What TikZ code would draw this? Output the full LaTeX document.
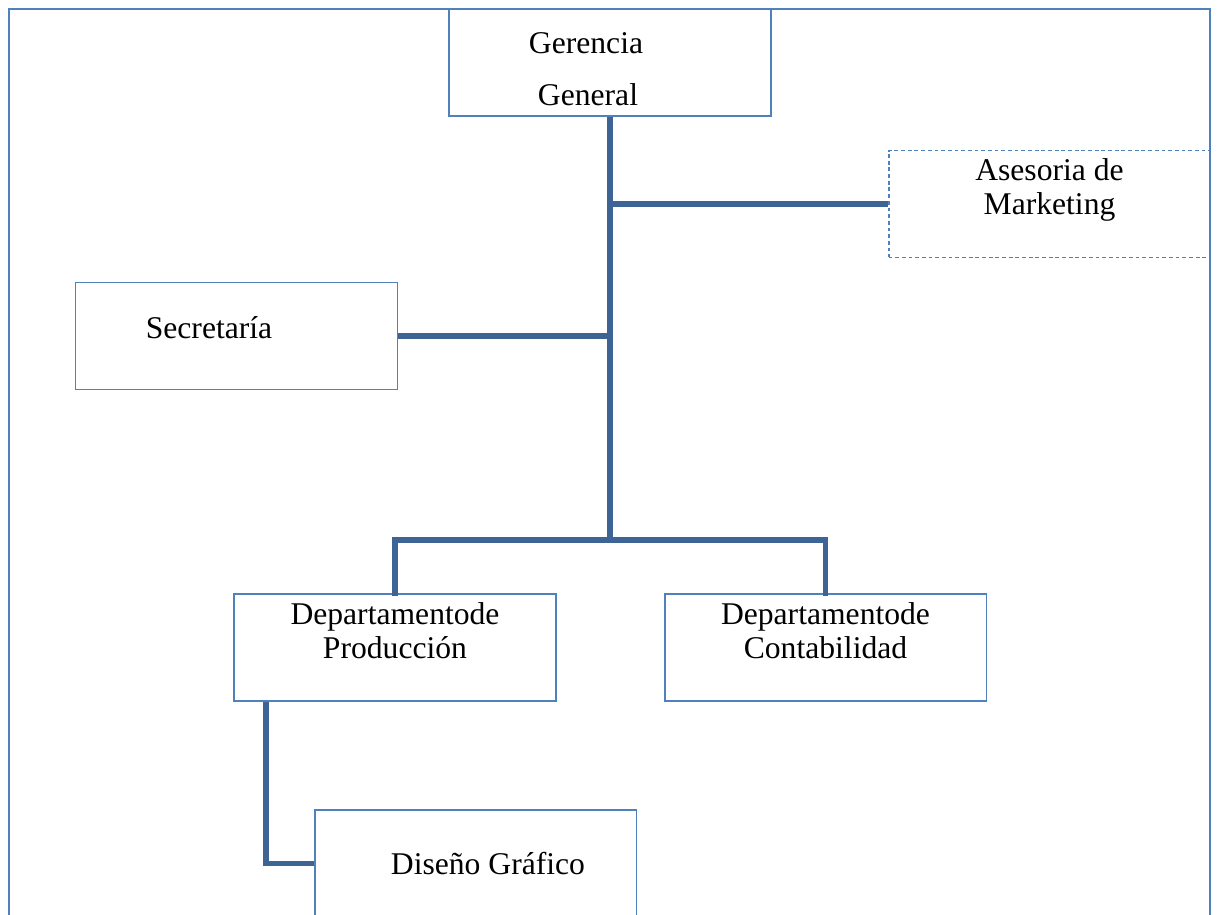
\documentclass[tikz,border=0pt]{standalone}
\usepackage{fontspec}
\setmainfont{Liberation Serif}
\usepackage{xcolor}
\usepackage{tikz}
\usetikzlibrary{positioning}
\definecolor{boxblue}{RGB}{79,129,189}
\definecolor{linkblue}{RGB}{62,100,150}
\tikzset{
  unit/.style={draw=boxblue, line width=1.1pt, rectangle, align=center, font=\fontsize{18}{19.5}\selectfont, minimum width=6.44cm, minimum height=2.14cm, inner sep=0pt},
  advisor/.style={unit, dash pattern=on 2.2pt off 1.6pt},
  link/.style={draw=linkblue, line width=3pt},
  frame/.style={draw=boxblue, line width=1.1pt}
}
\begin{document}
\begin{tikzpicture}[x=0.02cm, y=-0.02cm]
  \clip (0,0) rectangle (1218,914);

  \node [unit] (gg) at (610,62.5) {\mbox{}\\[0pt]\hspace*{-0.96cm}Gerencia\\[10pt]\hspace*{-0.88cm}General};
  \node [advisor] (asm) at (1049.5,204) {Asesoria de\\Marketing\\};
  \node [unit] (sec) at (236.5,336) {\hspace*{-1.1cm}Secretaría\\[-0.33cm]};
  \node [unit] (prod) at (395,647.5) {Departamentode\\Producción\\};
  \node [unit] (cont) at (825.5,647.5) {Departamentode\\Contabilidad\\};
  \node [unit] (dis) at (475.5,863.5) {\hspace*{0.5cm}Diseño Gráfico};

  \coordinate (hub) at (610,540);
  \draw [link] (gg.south) -- (hub);
  \draw [link] (asm.west) -- (asm.west -| gg.south);
  \draw [link] (sec.east) -- (sec.east -| gg.south);
  \draw [link, line cap=rect] (prod.north) |- (hub) -| (cont.north);
  \draw [link] ([xshift=0.66cm]prod.south west) |- (dis.west);

  \draw [frame] (449,9) -| (9,960);
  \draw [frame] (771,9) -| (1210,960);
\end{tikzpicture}
\end{document}
